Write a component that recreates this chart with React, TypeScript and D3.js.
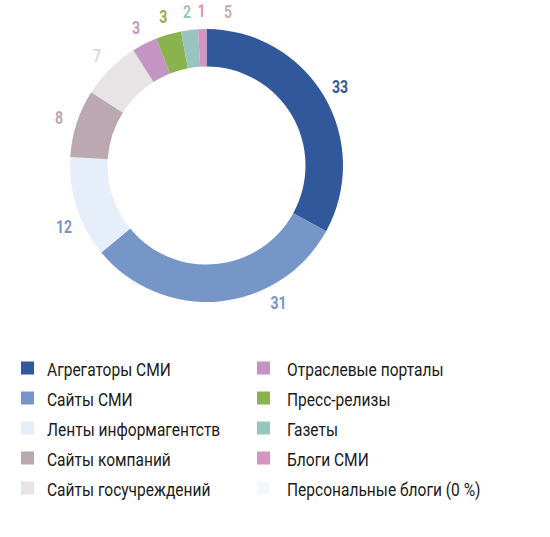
import React from "react";
import * as d3 from "d3";

const categories = [
  "Агрегаторы СМИ",
  "Сайты СМИ",
  "Ленты информагентств",
  "Сайты компаний",
  "Сайты госучреждений",
  "Отраслевые порталы",
  "Пресс-релизы",
  "Газеты",
  "Блоги СМИ",
  "Персональные блоги (0 %)",
];
const values = [33, 31, 12, 8, 7, 3, 3, 2, 1, 0];
const colors = [
  "#30589a",
  "#7796c8",
  "#e6eefa",
  "#bba8b0",
  "#e8e4e6",
  "#c495c2",
  "#8ab34e",
  "#97c5bd",
  "#d495c2",
  "#f3f6fd",
];
const labelColors = [
  "#30589a",
  "#7796c8",
  "#7796c8",
  "#bba8b0",
  "#e0d8dc",
  "#c495c2",
  "#8ab34e",
  "#97c5bd",
  "#d495c2",
  "#f3f6fd",
];
// position of each value label inside its slice (0 = start, 1 = end)
const labelFrac = [0.5, 0.3, 0.38, 0.5, 0.5, 0.5, 0.5, 0.5, 0.5, 0.5];
const strayLabel = { text: "5", color: "#c4adbb", angleDeg: 8 };

const W = 550;
const H = 537;
const cx = 206.5;
const cy = 165.5;
const rOuter = 136.5;
const rInner = 99;
const rLabel = 155;

const FONT = "Roboto, 'Liberation Sans Narrow', sans-serif";

export default function App() {
  const pie = d3
    .pie<number>()
    .sort(null)
    .value((d) => d);
  const arcs = pie(values);
  const arcGen = d3
    .arc<d3.PieArcDatum<number>>()
    .innerRadius(rInner)
    .outerRadius(rOuter);

  const labelPos = (angle: number) => ({
    x: cx + Math.sin(angle) * rLabel,
    y: cy - Math.cos(angle) * rLabel,
  });

  const legendCols = [
    { sq: 21, tx: 47 },
    { sq: 257, tx: 287 },
  ];
  const legendY0 = 369;
  const legendStep = 30;

  const stray = labelPos((strayLabel.angleDeg * Math.PI) / 180);

  return (
    <svg
      width={W}
      height={H}
      style={{ position: "absolute", left: 0, top: 0, background: "#fff" }}
    >
      <g transform={`translate(${cx},${cy})`}>
        {arcs.map((a, i) =>
          a.value > 0 ? (
            <path key={i} d={arcGen(a) || ""} fill={colors[i]} />
          ) : null
        )}
      </g>
      {arcs.map((a, i) => {
        if (a.value <= 0) return null;
        const ang = a.startAngle + (a.endAngle - a.startAngle) * labelFrac[i];
        const p = labelPos(ang);
        return (
          <text
            key={i}
            transform={`translate(${p.x},${p.y}) scale(0.8,1)`}
            textAnchor="middle"
            dy="0.36em"
            fontFamily={FONT}
            fontWeight={700}
            fontSize={17.5}
            fill={labelColors[i]}
          >
            {a.value}
          </text>
        );
      })}
      <text
        transform={`translate(${stray.x},${stray.y}) scale(0.8,1)`}
        textAnchor="middle"
        dy="0.36em"
        fontFamily={FONT}
        fontWeight={700}
        fontSize={17.5}
        fill={strayLabel.color}
      >
        {strayLabel.text}
      </text>
      {categories.map((c, i) => {
        const col = legendCols[Math.floor(i / 5)];
        const y = legendY0 + (i % 5) * legendStep;
        return (
          <g key={c}>
            <rect x={col.sq} y={y - 7.5} width={13} height={13} fill={colors[i]} />
            <text
              transform={`translate(${col.tx},${y}) scale(0.84,1)`}
              dy="0.36em"
              fontFamily={FONT}
              fontSize={18.5}
              fill="#1a1a1a"
            >
              {c}
            </text>
          </g>
        );
      })}
    </svg>
  );
}
